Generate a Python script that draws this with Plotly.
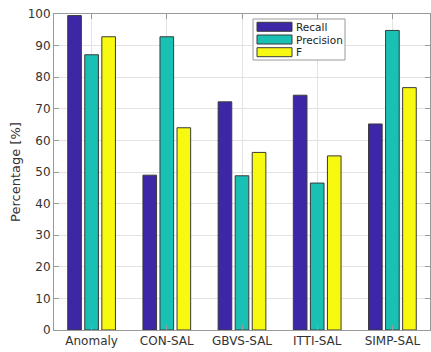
import plotly.graph_objects as go

# Detection scores per method
methods = ["Anomaly", "CON-SAL", "GBVS-SAL", "ITTI-SAL", "SIMP-SAL"]
recall = [99.5, 49.0, 72.2, 74.3, 65.2]
precision = [87.1, 92.8, 48.8, 46.5, 94.8]
f_score = [92.8, 64.0, 56.2, 55.1, 76.7]
y_ticks = [0, 10, 20, 30, 40, 50, 60, 70, 80, 90, 100]

series_names = ["Recall", "Precision", "F"]
series_values = [recall, precision, f_score]
colors = ["#3d27a6", "#19c0b4", "#f8f910"]
edge = "#3a3a3a"

W, H = 431, 352
ML, MR, MT, MB = 54, 1, 14, 22
PW, PH = W - ML - MR, H - MT - MB

fig = go.Figure()
for name, vals, col in zip(series_names, series_values, colors):
    fig.add_trace(go.Bar(
        x=methods, y=vals, name=name,
        marker=dict(color=col, line=dict(color=edge, width=1)),
        showlegend=False,
    ))

axis_common = dict(
    showline=True, linecolor="#9a9a9a", linewidth=1, mirror="ticks",
    ticks="inside", ticklen=5, tickcolor="#9a9a9a",
    showgrid=True, gridcolor="#e3e3e3", gridwidth=1,
    zeroline=False,
    tickfont=dict(family="DejaVu Sans", size=12, color="#333333"),
)

fig.update_layout(
    width=W, height=H,
    margin=dict(l=ML, r=MR, t=MT, b=MB),
    paper_bgcolor="white", plot_bgcolor="white",
    barmode="group", bargap=0.32, bargroupgap=0.2,
    xaxis=dict(**axis_common, range=[-0.5, 4.5]),
    yaxis=dict(**axis_common, range=[0, 100], tickvals=y_ticks,
               title=dict(text="Percentage [%]", standoff=4,
                          font=dict(family="DejaVu Sans", size=13, color="#333333"))),
)

# Legend drawn as a boxed key with wide colour patches
def px_x(px):
    return (px - ML) / PW

def px_y(py):
    return (H - MB - py) / PH

shapes = [dict(type="rect", xref="paper", yref="paper",
               x0=px_x(253), x1=px_x(345), y0=px_y(60), y1=px_y(19),
               line=dict(color="#9a9a9a", width=1), fillcolor="white", layer="above")]
annotations = []
row_centers = [26.8, 39.5, 52.2]
for name, col, cy in zip(series_names, colors, row_centers):
    shapes.append(dict(type="rect", xref="paper", yref="paper",
                       x0=px_x(257), x1=px_x(292), y0=px_y(cy + 4.5), y1=px_y(cy - 4.5),
                       line=dict(color=edge, width=1), fillcolor=col, layer="above"))
    annotations.append(dict(xref="paper", yref="paper", x=px_x(294), y=px_y(cy),
                            xanchor="left", yanchor="middle", showarrow=False, text=name,
                            font=dict(family="DejaVu Sans", size=10.5, color="#222222")))
fig.update_layout(shapes=shapes, annotations=annotations)

fig.write_html("out.html")
